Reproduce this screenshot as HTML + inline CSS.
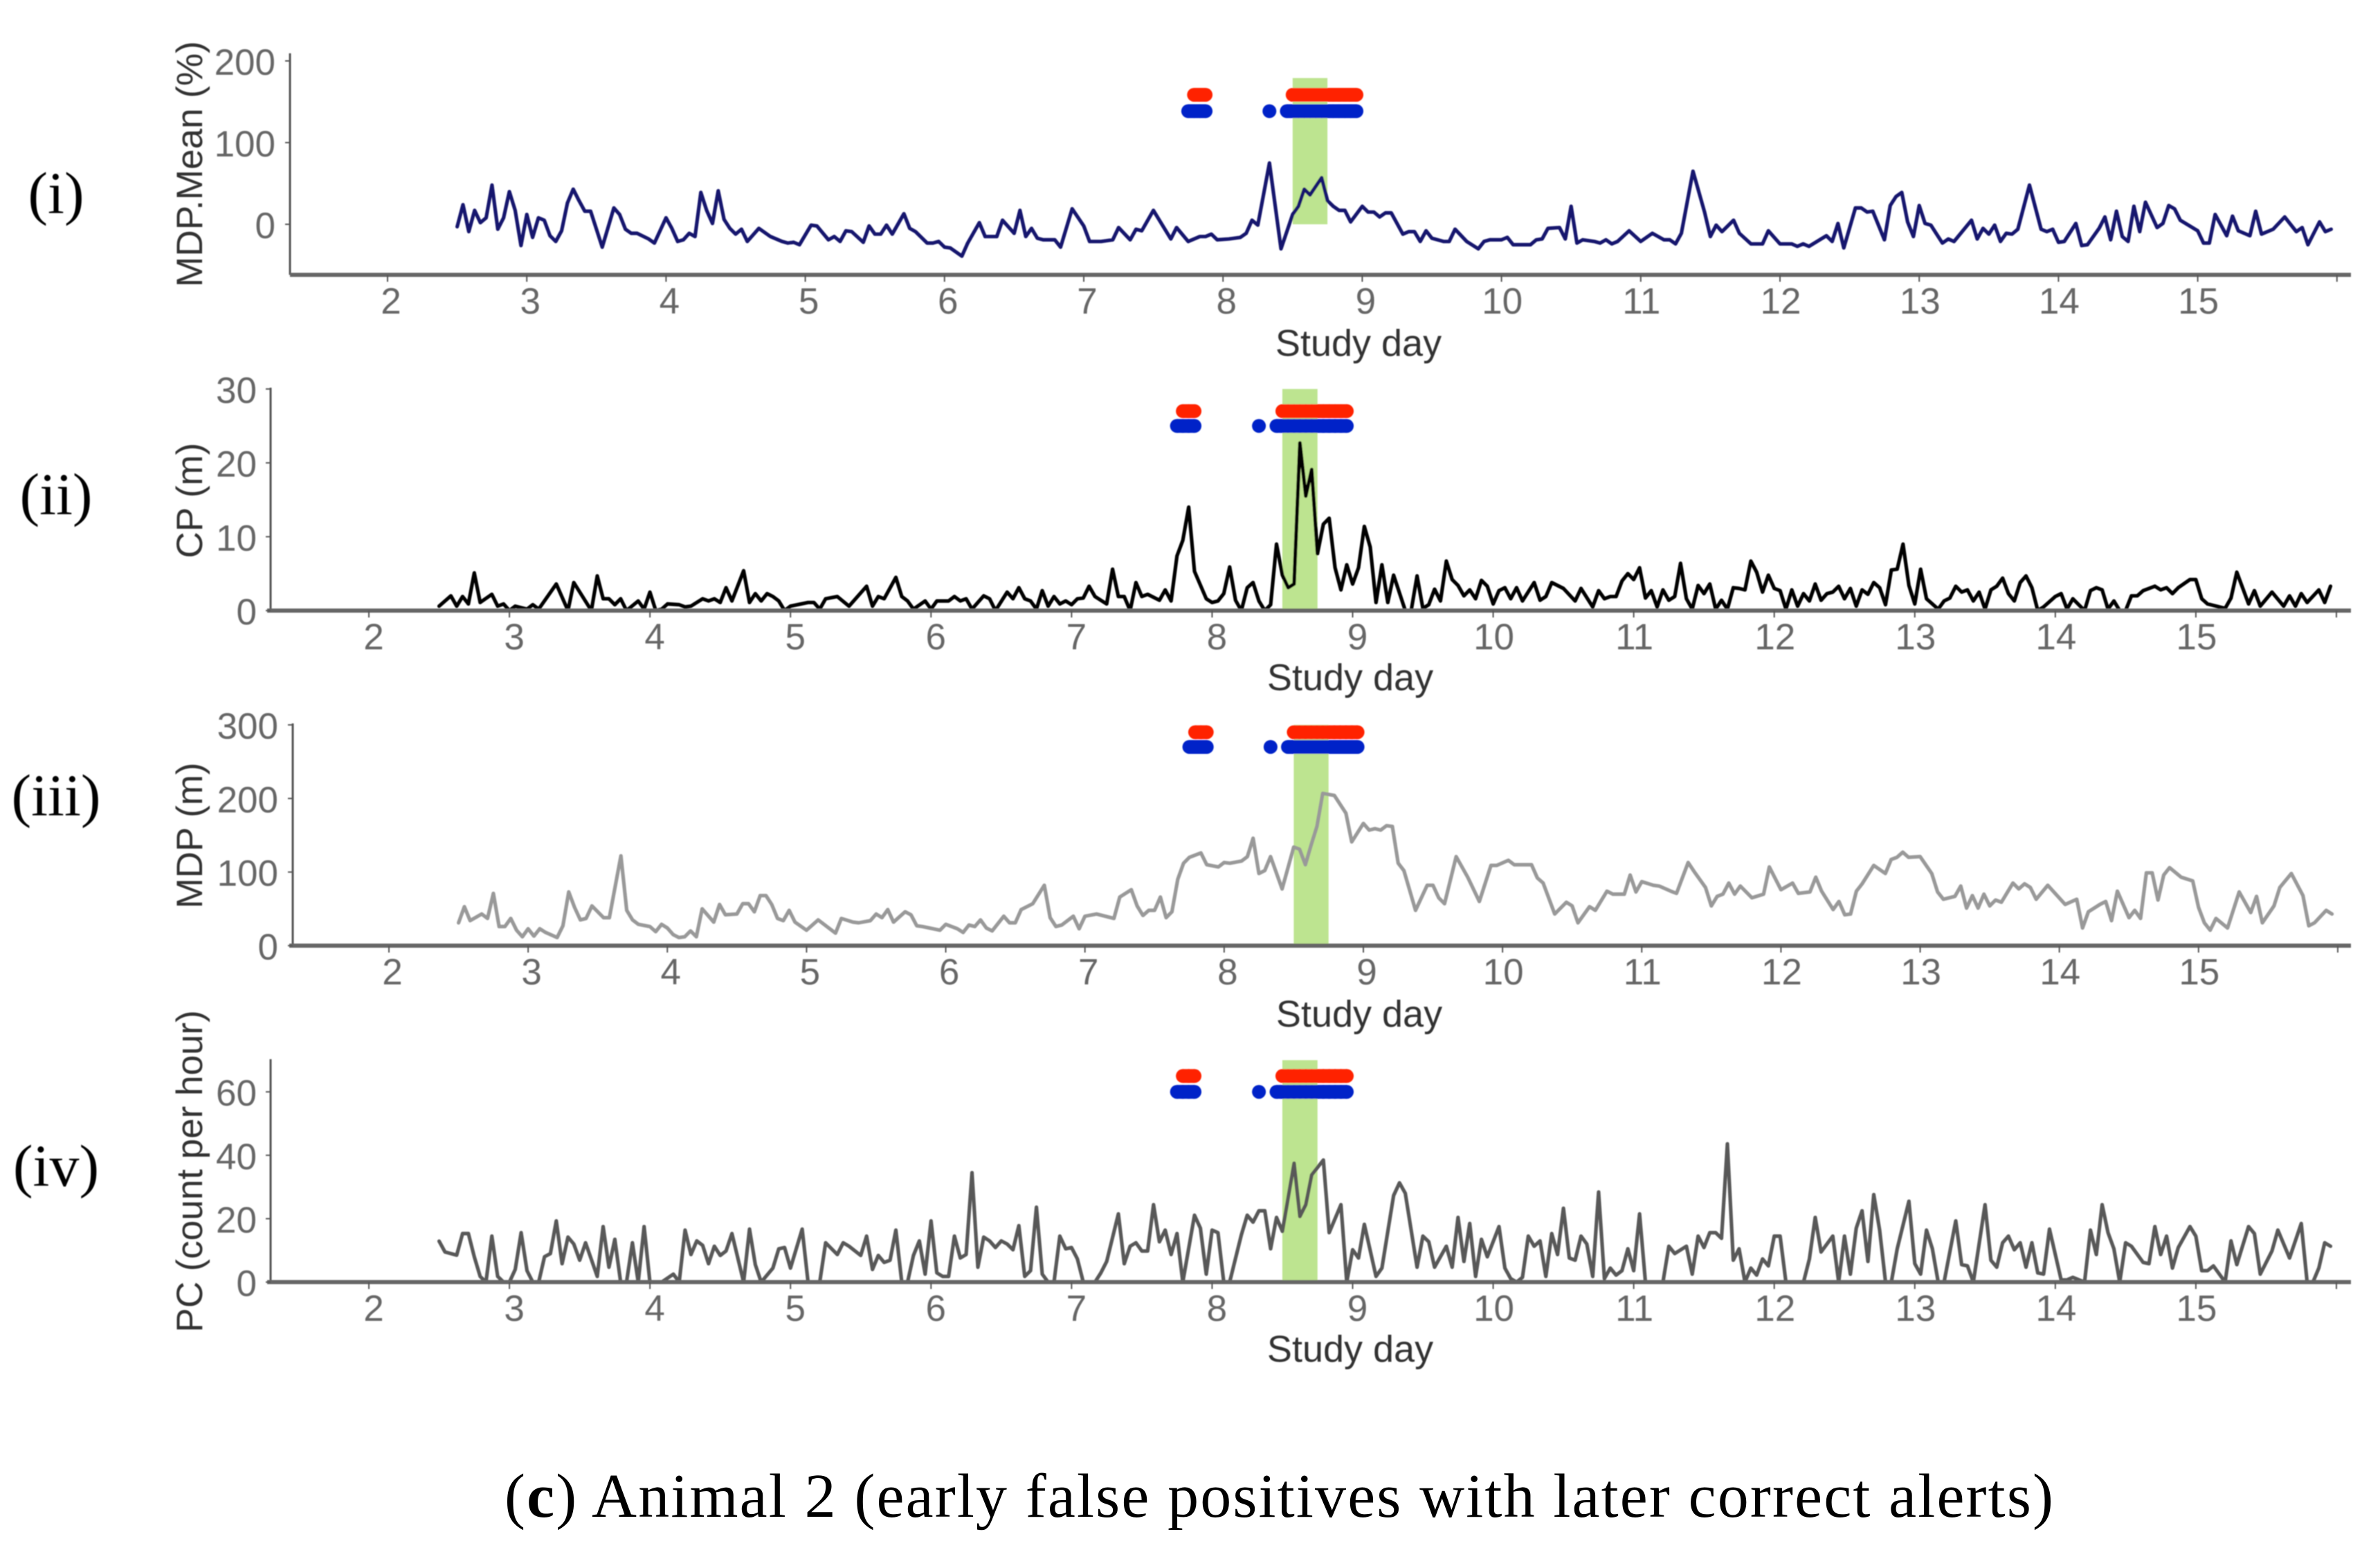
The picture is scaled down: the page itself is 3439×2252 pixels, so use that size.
<!DOCTYPE html>
<html lang="en">
<head>
<meta charset="utf-8">
<title>Animal 2 study-day chart</title>
<style>
html,body{margin:0;padding:0;background:#fff;}
svg{display:block;}
text{font-family:"Liberation Sans",sans-serif;}
.serif{font-family:"Liberation Serif",serif;fill:#000;}
</style>
</head>
<body>
<svg id="figure" xmlns="http://www.w3.org/2000/svg" width="3439" height="2252" viewBox="0 0 3439 2252">
<defs><filter id="soft" x="-2%" y="-2%" width="104%" height="104%"><feGaussianBlur stdDeviation="0.8"/></filter></defs>
<rect width="3439" height="2252" fill="#ffffff"/>
<g id="panels" filter="url(#soft)"></g>
<text class="serif" x="1848" y="2191" text-anchor="middle" font-size="90" textLength="2238" lengthAdjust="spacing">(<tspan font-weight="bold">c</tspan>) Animal 2 (early false positives with later correct alerts)</text>
</svg>
<script>
// Shared x-axis data. Hours are counted from the start of study day 2.
const xTickDays = [2,3,4,5,6,7,8,9,10,11,12,13,14,15,16];
const xTickLabels = ["2","3","4","5","6","7","8","9","10","11","12","13","14","15",""];
const estrusStartDay = 8.5;
const estrusEndDay = 8.75;
const redAlertHours = [139,140,141,156,157,158,159,160,161,162,163,164,165,166,167];
const blueAlertHours = [138,139,140,141,152,155,156,157,158,159,160,161,162,163,164,165,166,167];

// Panel (i) MDP.Mean (%)
const mdpMeanTicks = [0,100,200];
const mdpMeanAlertLevels = [158.5,138.5];
const mdpMeanHours = [
12,13,14,15,16,17,18,19,20,21,
22,23,24,25,26,27,28,29,30,31,
32,33,34,35,37,39,40,41,42,43,
45,46,48,49,50,51,52,53,54,55,
56,57,58,59,60,61,62,64,66,68,
69,70,71,73,74,76,77,78,79,80,
82,83,84,85,86,87,89,90,91,93,
94,95,96,97,99,100,102,103,105,106,
108,109,110,111,112,113,115,116,118,120,
121,123,125,126,128,129,130,132,135,136,
138,140,141,142,143,145,147,148,149,150,
152,154,156,157,158,159,161,162,163,164,
165,166,168,169,170,171,172,173,175,176,
177,178,179,180,182,183,184,186,188,189,
190,192,193,194,197,198,199,200,202,203,
204,205,206,208,209,210,211,212,214,216,
218,220,221,222,223,225,227,228,229,230,
232,233,235,237,238,240,242,243,244,245,
248,249,250,251,253,254,255,256,258,259,
260,261,262,263,264,265,266,268,269,270,
273,274,275,276,277,278,279,280,281,283,
285,286,287,288,289,291,292,293,295,296,
297,298,299,300,301,302,303,305,306,307,
308,309,312,313,314,315,317,318,319,321,
322,323,325,327,329,330,331,333,334,335];
const mdpMeanValues = [
-3,24,-9,17,2,8,48,-6,8,40,
17,-26,12,-16,8,5,-14,-21,-8,26,
43,29,16,16,-28,20,12,-6,-11,-11,
-18,-23,8,-5,-21,-19,-11,-15,39,17,
1,41,6,-5,-12,-6,-21,-5,-15,-21,
-23,-22,-25,-1,-2,-19,-15,-21,-8,-9,
-22,-2,-12,-12,-1,-12,13,-5,-9,-23,
-23,-21,-28,-29,-39,-23,2,-15,-15,5,
-11,17,-15,-5,-17,-19,-19,-28,19,-2,
-21,-21,-19,-4,-19,-6,-8,17,-18,-4,
-21,-15,-15,-12,-19,-18,-16,-11,5,-1,
75,-30,12,22,43,36,57,29,22,17,
17,3,22,15,15,9,14,14,-12,-9,
-9,-21,-8,-17,-21,-21,-6,-21,-30,-21,
-19,-19,-16,-25,-25,-19,-18,-5,-4,-18,
22,-23,-19,-21,-23,-19,-24,-21,-8,-21,
-11,-19,-19,-24,-11,65,15,-15,-1,-9,
5,-11,-24,-24,-8,-24,-24,-27,-24,-27,
-14,-21,1,-29,20,20,15,16,-19,23,
34,39,3,-15,23,1,-1,-23,-18,-21,
5,-18,-5,-12,-1,-21,-11,-12,-6,48,
-6,-9,-6,-22,-21,1,-26,-25,-5,9,
-19,16,-15,-21,22,-9,27,-4,1,23,
19,5,-8,-23,-23,12,-14,10,-8,-14,
16,-12,-6,9,-9,-4,-25,3,-9,-6];

// Panel (ii) CP (m)
const cpTicks = [0,10,20,30];
const cpAlertLevels = [27,25];
const cpHours = [
12,14,15,16,17,18,19,21,22,23,
24,25,27,28,29,32,34,35,38,39,
40,41,42,43,44,46,47,48,49,50,
51,53,54,55,57,58,59,60,61,62,
64,65,66,67,68,69,70,71,72,75,
76,77,78,80,82,85,86,87,88,90,
91,92,93,95,96,97,99,100,101,102,
103,105,106,107,109,110,111,112,113,114,
115,116,117,118,119,120,121,122,123,124,
126,127,128,129,130,131,132,133,135,136,
137,138,139,140,141,143,144,145,146,147,
148,149,150,151,152,153,154,155,156,157,
158,159,160,161,162,163,164,165,166,167,
168,169,170,171,172,173,174,175,177,178,
179,180,181,182,183,184,185,186,187,188,
189,190,191,192,193,194,195,196,197,199,
200,201,202,204,206,207,209,210,211,212,
213,214,215,216,217,218,219,220,221,222,
223,224,225,226,227,228,229,230,231,232,
233,234,235,236,237,238,239,240,241,242,
243,244,245,246,247,248,249,250,251,252,
253,254,255,256,257,258,259,260,261,262,
263,264,265,266,267,268,269,270,271,272,
273,274,275,276,277,278,279,280,281,282,
283,284,285,286,288,289,290,291,293,294,
295,296,297,298,299,300,301,302,303,305,
306,307,308,309,311,312,313,314,317,318,
319,321,322,323,325,327,328,329,330,331,
333,334,335];
const cpValues = [
.6,2,.6,1.9,.9,5.1,1.1,2.2,.6,.9,
0,.6,.2,.8,.2,3.6,0,3.8,0,4.7,
1.6,1.6,.8,1.6,0,1.3,.2,2.5,0,.2,
.9,.8,.5,.6,1.6,1.3,1.6,1.1,3.1,1.3,
5.4,1.1,2.3,1.3,2.3,1.9,1.3,0,.6,1.1,
1.1,.2,1.6,1.9,.6,3.3,.6,1.9,1.6,4.5,
1.9,1.3,.2,1.3,.2,1.3,1.3,1.9,1.3,1.6,
.2,2,1.6,0,2.5,1.6,3.1,1.6,1.3,.2,
2.7,.6,1.9,.9,1.3,.8,1.6,1.7,3.3,1.9,
.9,5.6,1.9,1.9,0,3.8,1.9,2.2,1.4,2.8,
1.3,7.4,9.5,14,5.3,1.6,1.1,1.3,2.3,5.9,
1.4,0,3.1,3.8,1.3,0,.8,9,4.8,3.1,
3.6,22.7,15.5,19.1,7.7,11.7,12.5,5.8,2.8,6.2,
3.6,5.8,11.4,8.6,1.1,6.2,1.1,4.8,0,0,
4.7,.3,.8,2.9,1.3,6.7,4.2,3.4,2,2.8,
1.6,4.1,3.3,.9,2.7,3.1,1.6,3.1,1.3,3.8,
1.4,1.9,3.8,3,1.3,3,.5,2.7,1.6,1.9,
1.9,4,5,4.2,5.8,1.7,2.7,.5,2.8,1.4,
1.9,6.4,1.6,.2,3.4,2.3,3.6,.2,1.4,.2,
3.1,3,2.8,6.7,5.2,2.5,4.8,3,2.7,.2,
2.8,.6,2.3,1.3,3.6,1.4,2.3,2.5,3.3,1.6,
3,.6,2.8,2.2,3.8,3.1,.8,5.5,5.6,9,
3.4,.9,5.6,1.6,.9,.2,1.3,1.7,3.3,2.5,
2.8,1.3,2.5,.2,2.8,3.3,4.4,2.3,1.3,3.8,
4.7,3.1,0,.5,1.9,2.3,.2,1.6,0,2.7,
3.1,2.8,.2,1.3,0,0,2,2,2.7,3.3,
2.8,3.1,2.3,3.1,4.2,4.2,1.6,.9,.3,1.7,
5.2,.9,2.7,.6,2.5,.6,2,.6,2.3,1.1,
2.8,1.1,3.3];

// Panel (iii) MDP (m)
const mdpTicks = [0,100,200,300];
const mdpAlertLevels = [290,270];
const mdpHours = [
12,13,14,16,17,18,19,20,21,22,
23,24,25,26,27,29,30,31,32,33,
34,35,37,38,40,41,42,43,45,46,
47,48,49,50,51,52,53,54,56,57,
58,60,61,62,63,64,65,66,67,68,
69,70,72,74,77,78,80,81,83,84,
85,86,87,89,90,91,92,95,96,98,
99,100,101,102,103,104,106,107,108,109,
110,111,113,114,115,116,118,119,120,122,
125,126,128,129,130,131,132,133,134,135,
136,137,138,140,141,143,144,145,147,148,
149,150,151,152,154,156,157,158,159,160,
161,163,165,166,168,169,170,171,172,173,
174,175,177,179,180,181,182,184,186,188,
190,191,193,194,197,198,199,201,203,204,
205,207,208,210,211,213,214,215,216,218,
219,221,222,224,225,227,228,229,230,231,
232,233,235,237,238,240,242,243,245,246,
247,249,250,251,252,253,254,256,258,259,
260,261,262,264,266,267,268,270,271,272,
273,274,275,276,277,278,280,281,282,283,
284,286,289,291,292,293,295,296,297,298,
300,301,302,303,304,305,306,307,309,311,
312,313,314,315,317,319,321,322,323,325,
326,328,330,331,332,334,335];
const mdpValues = [
31,53,34,43,37,71,26,26,37,21,
12,23,13,23,18,11,27,73,52,35,
37,54,38,38,122,48,35,29,26,19,
29,24,15,11,12,20,12,50,32,56,
42,43,57,57,46,68,68,56,37,34,
48,32,21,35,17,37,32,31,34,43,
38,49,32,46,42,27,26,21,29,23,
18,28,26,35,24,20,40,31,31,49,
53,57,82,38,26,28,40,23,40,43,
37,66,76,54,41,48,48,66,38,46,
90,112,120,126,110,107,113,112,115,121,
146,98,102,121,77,134,131,110,137,162,
207,204,180,141,166,157,159,157,163,162,
112,102,48,82,82,65,57,121,93,60,
109,109,116,110,110,92,85,43,59,54,
31,53,48,74,70,70,96,73,87,82,
81,74,71,113,101,79,54,67,70,85,
70,81,65,70,107,76,85,71,73,93,
74,49,60,42,43,74,84,109,98,117,
120,127,120,121,98,73,63,67,81,51,
68,51,70,54,62,59,85,77,84,79,
63,82,56,63,24,46,56,60,34,74,
38,48,37,99,99,62,96,106,93,88,
52,31,21,37,24,73,45,67,31,54,
79,98,68,27,31,48,43];

// Panel (iv) PC (count per hour)
const pcTicks = [0,20,40,60];
const pcAlertLevels = [65,60];
const pcHours = [
12,13,15,16,17,18,19,20,21,22,
23,24,25,26,27,28,29,30,31,32,
33,34,35,36,37,39,40,41,42,43,
44,45,46,47,48,50,52,53,54,55,
56,57,58,59,60,61,62,64,65,66,
67,69,70,71,72,74,75,77,78,80,
81,82,84,85,86,87,88,89,90,91,
92,93,94,95,96,97,98,99,100,101,
102,103,104,105,106,107,108,109,110,111,
112,113,114,115,116,117,118,119,120,121,
122,124,125,126,128,129,130,131,132,133,
134,135,136,137,138,139,141,142,143,144,
145,146,147,149,150,151,152,153,154,155,
156,158,159,160,161,163,164,166,167,168,
169,170,172,173,175,176,177,179,180,181,
182,184,185,186,187,188,189,190,191,193,
194,195,196,197,198,199,200,201,202,203,
204,205,206,207,208,209,210,211,212,213,
214,215,216,217,218,221,222,223,225,226,
227,228,229,230,231,232,233,234,235,236,
237,238,239,240,241,242,245,246,247,248,
250,251,252,253,254,255,256,257,258,259,
260,261,263,264,265,266,267,268,269,271,
272,273,274,276,277,278,279,280,281,282,
283,284,285,286,287,289,290,291,293,294,
295,296,297,298,299,300,301,303,304,305,
306,307,308,309,311,312,313,314,315,317,
318,319,321,322,323,325,326,328,330,331,
332,333,334,335];
const pcValues = [
12.9,9.5,8.5,15.3,15.3,8,1.8,0,14.5,1.8,
0,0,4,15.6,3.6,0,0,8,9,19.3,
5.8,14.2,12,6.9,12.4,1.8,17.5,4.7,13.5,0,
0,12.4,0,17.5,0,0,2.5,0,16.4,8.7,
13,11.6,5.8,11.3,8.4,9.8,15.3,0,16.7,5.5,
0,4.4,10.5,10.9,4.4,16.7,0,0,12.4,8.7,
12.4,11.3,8.4,14.5,4,8.4,6.2,6.9,16.4,0,
0,8.4,13,2.5,19.3,2.9,1.8,1.8,14.5,7.6,
8.7,34.5,4.7,14.2,13,10.9,13,12,10.2,17.8,
1.8,3.6,23.6,2.5,0,0,14.5,10.5,10.9,7.3,
0,0,2.9,6.5,21.5,5.8,11.3,12.4,9.8,9.8,
24.4,12.7,16.4,8.7,15.3,0,21.1,17,2.5,16.4,
15.6,0,0,14.9,21.1,18.9,22.5,22.5,10.5,20.4,
16,37.5,20.7,24.4,33.8,38.5,15.6,24.4,0,10.2,
7.6,18.2,1.8,4.4,27.3,31.3,28,4.7,14.5,12.7,
4.7,11.3,4.7,20.4,6.5,18.5,1.8,13.5,8,17.5,
4.4,1.1,0,1.5,14.5,11.3,13,1.8,15.3,8.7,
23.3,7.6,6.9,14.5,12,1.8,28.4,1.1,4.4,2.2,
3.6,10.5,3.6,21.5,0,0,11.3,9,11.3,2.5,
14.5,10.9,15.6,15.6,13.8,43.6,6.9,10.5,0,4.4,
2.2,7.3,5.1,14.5,14.5,0,0,7.3,20.4,9.5,
14.5,0,14.5,2.5,17,22.5,6.5,27.6,16.4,0,
0,10.5,25.5,5.8,2.5,16.4,10.5,0,0,19.3,
5.5,5.1,0,24.4,6.9,4.7,12.4,14.5,10.2,12.4,
4.7,12.4,2.9,2.5,16.7,.7,.7,1.5,0,16.4,
8.7,24.4,15.6,10.5,0,12.4,11.3,6.2,5.8,17.5,
8.7,14.5,4.4,10.9,17.5,14.5,3.6,3.6,5.1,0,
13,5.5,17.5,15.3,2.5,9.8,16.4,7.6,18.5,0,
0,4.4,12.4,11.3];

const SVG_NS = "http://www.w3.org/2000/svg";
const panelsRoot = document.getElementById("panels");

function make(tag, parent, attrs, content) {
  const node = document.createElementNS(SVG_NS, tag);
  for (const key in attrs) node.setAttribute(key, attrs[key]);
  if (content !== undefined) node.textContent = content;
  parent.appendChild(node);
  return node;
}

function hourToDay(hour) { return 2 + hour / 24; }

function drawPanel(p) {
  const xScale = day => p.day2X + (day - 2) * p.dayStep;
  const yScale = value => p.zeroY - value * p.unitPx;

  const g = make("g", panelsRoot, {});
  
  

  // estrus band
  const band = make("rect", g, {
    x: xScale(estrusStartDay), y: yScale(p.bandTop),
    width: xScale(estrusEndDay) - xScale(estrusStartDay),
    height: yScale(0) - yScale(p.bandTop), fill: "#bde490"
  });
  
  

  // series line
  const points = p.hours.map((h, i) => xScale(hourToDay(h)).toFixed(1) + "," + yScale(p.values[i]).toFixed(1)).join(" ");
  const line = make("polyline", g, {
    points: points, fill: "none", stroke: p.color, "stroke-width": p.lineWidth, "stroke-linejoin": "round", "stroke-linecap": "round"
  });
  
  

  // alerts: a dot per alert hour, joined to the previous hour when consecutive
  const redGroup = make("g", g, { fill: "#ff2200", stroke: "#ff2200" });
  
  
  redAlertHours.forEach((h, i) => {
    const cx = xScale(hourToDay(h));
    const cy = yScale(p.alertLevels[0]);
    const dot = make("circle", redGroup, { cx: cx, cy: cy, r: 10, "stroke-width": 0 });
    
    
    if (i > 0 && redAlertHours[i - 1] === h - 1) {
      const link = make("line", redGroup, { x1: xScale(hourToDay(h - 1)), x2: cx, y1: cy, y2: cy, "stroke-width": 20 });
      
      
    }
  });
  const blueGroup = make("g", g, { fill: "#0322c8", stroke: "#0322c8" });
  
  
  blueAlertHours.forEach((h, i) => {
    const cx = xScale(hourToDay(h));
    const cy = yScale(p.alertLevels[1]);
    const dot = make("circle", blueGroup, { cx: cx, cy: cy, r: 10, "stroke-width": 0 });
    
    
    if (i > 0 && blueAlertHours[i - 1] === h - 1) {
      const link = make("line", blueGroup, { x1: xScale(hourToDay(h - 1)), x2: cx, y1: cy, y2: cy, "stroke-width": 20 });
      
      
    }
  });

  // axes
  const yAxis = make("line", g, { x1: p.axisX, x2: p.axisX, y1: p.axisTop, y2: p.axisBottom, stroke: "#555", "stroke-width": 3 });
  
  
  const xAxis = make("line", g, { x1: p.axisStart, x2: 3397, y1: p.axisBottom, y2: p.axisBottom, stroke: "#666", "stroke-width": 6 });
  
  

  // x ticks
  xTickDays.forEach((day, i) => {
    const tick = make("line", g, { x1: xScale(day), x2: xScale(day), y1: p.axisBottom, y2: p.axisBottom + 10, stroke: "#555", "stroke-width": 2 });
    
    
    if (xTickLabels[i]) {
      const offset = xTickLabels[i].length > 1 ? 1 : p.labelShift;
      const label = make("text", g, { x: xScale(day) + offset, y: p.axisBottom + 56, "font-size": 53, fill: "#666", "text-anchor": "middle" }, xTickLabels[i]);
      
      
    }
  });

  // y ticks
  p.ticks.forEach(value => {
    const tick = make("line", g, { x1: p.axisX - 7, x2: p.axisX, y1: yScale(value), y2: yScale(value), stroke: "#555", "stroke-width": 2 });
    
    
    const label = make("text", g, { x: p.tickLabelRight, y: yScale(value) + 20, "font-size": 53, fill: "#666", "text-anchor": "end" }, String(value));
    
    
  });

  // titles
  const yTitle = make("text", g, {
    x: 292, y: p.yTitleCenter, "font-size": 53, fill: "#333", "text-anchor": "middle",
    transform: "rotate(-90 292 " + p.yTitleCenter + ")"
  }, p.yTitle);
  
  

  const xTitle = make("text", g, { x: p.xTitleX, y: p.xTitleY, "font-size": 54, fill: "#333", "text-anchor": "middle" }, "Study day");
  
  

  const roman = make("text", g, { x: 81, y: p.romanY, "font-size": 86, class: "serif", "text-anchor": "middle" }, p.roman);
  
  
}

drawPanel({ key: "mdp-mean", roman: "(i)", romanY: 308, yTitle: "MDP.Mean (%)", yTitleCenter: 237,
  hours: mdpMeanHours, values: mdpMeanValues, ticks: mdpMeanTicks, alertLevels: mdpMeanAlertLevels,
  color: "#14146e", lineWidth: 5.2, bandTop: 179, day2X: 560, dayStep: 201.2, zeroY: 324, unitPx: 1.18,
  axisX: 419, axisStart: 419, axisTop: 77, axisBottom: 397, tickLabelRight: 398, xTitleX: 1963, xTitleY: 514, labelShift: 5 });

drawPanel({ key: "cp", roman: "(ii)", romanY: 743, yTitle: "CP (m)", yTitleCenter: 723,
  hours: cpHours, values: cpValues, ticks: cpTicks, alertLevels: cpAlertLevels,
  color: "#000000", lineWidth: 5.2, bandTop: 30, day2X: 533, dayStep: 203.07, zeroY: 882, unitPx: 10.67,
  axisX: 391, axisStart: 386, axisTop: 560, axisBottom: 882, tickLabelRight: 371, xTitleX: 1951, xTitleY: 997, labelShift: 7 });

drawPanel({ key: "mdp", roman: "(iii)", romanY: 1178, yTitle: "MDP (m)", yTitleCenter: 1207,
  hours: mdpHours, values: mdpValues, ticks: mdpTicks, alertLevels: mdpAlertLevels,
  color: "#999999", lineWidth: 5.2, bandTop: 300, day2X: 562, dayStep: 201.14, zeroY: 1366, unitPx: 1.063,
  axisX: 423, axisStart: 418, axisTop: 1045, axisBottom: 1366, tickLabelRight: 402, xTitleX: 1964, xTitleY: 1483, labelShift: 5 });

drawPanel({ key: "pc", roman: "(iv)", romanY: 1713, yTitle: "PC (count per hour)", yTitleCenter: 1692,
  hours: pcHours, values: pcValues, ticks: pcTicks, alertLevels: pcAlertLevels,
  color: "#595959", lineWidth: 5.2, bandTop: 70, day2X: 533, dayStep: 203.07, zeroY: 1852, unitPx: 4.58,
  axisX: 391, axisStart: 386, axisTop: 1530, axisBottom: 1852, tickLabelRight: 371, xTitleX: 1951, xTitleY: 1967, labelShift: 7 });
</script>
</body>
</html>
